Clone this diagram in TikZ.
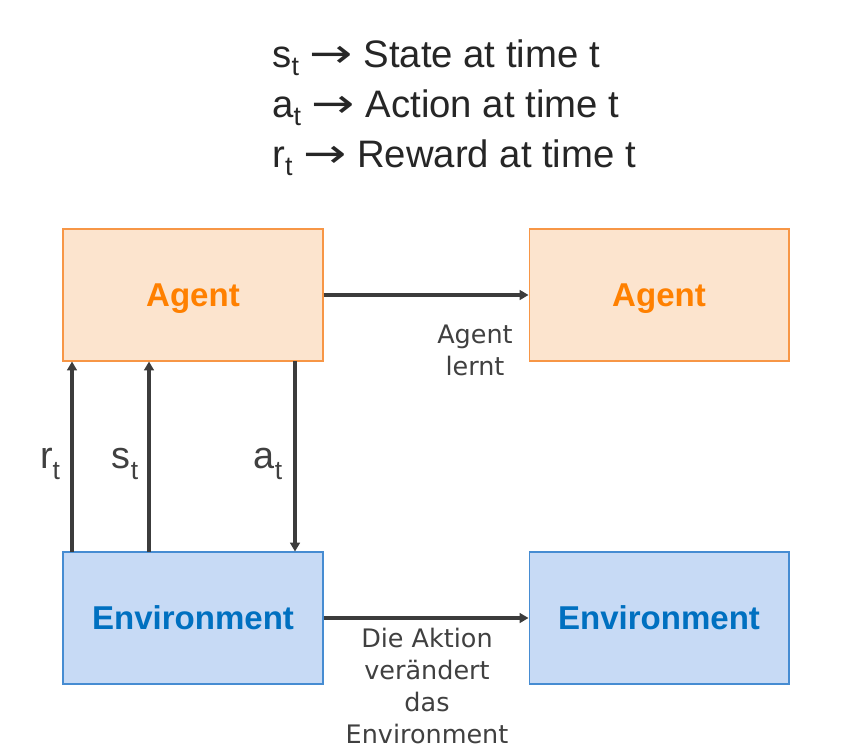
\documentclass[tikz,border=0pt]{standalone}
\usepackage{fontspec}
\setmainfont{Liberation Sans}
\newfontfamily\labelfont{DejaVu Sans}
\usetikzlibrary{arrows.meta}

\definecolor{agentfill}{RGB}{252,228,206}
\definecolor{agentline}{RGB}{247,150,70}
\definecolor{agenttext}{RGB}{255,128,0}
\definecolor{envfill}{RGB}{199,218,245}
\definecolor{envline}{RGB}{70,140,210}
\definecolor{envtext}{RGB}{0,112,192}
\definecolor{flowgray}{RGB}{60,60,60}
\definecolor{notegray}{RGB}{64,64,64}

\newcommand{\subt}[1][0.4ex]{\raisebox{-#1}{\scalebox{0.7}{t}}}
\newcommand{\legarrow}{{\labelfont\scalebox{1.35}[1.05]{→}}}

\begin{document}
\begin{tikzpicture}[x=0.02cm, y=-0.02cm,
		agentbox/.style={draw=agentline, fill=agentfill, line width=0.6pt, minimum width=5.2cm,
			minimum height=2.64cm, inner sep=0pt, text depth=0pt, text=agenttext, font=\fontsize{18.8}{22}\selectfont\bfseries},
		envbox/.style={draw=envline, fill=envfill, line width=0.6pt, minimum width=5.2cm,
			minimum height=2.64cm, inner sep=0pt, text depth=0pt, text=envtext, font=\fontsize{18.8}{22}\selectfont\bfseries},
		flow/.style={draw=flowgray, line width=1.9pt, -{Triangle[length=5pt,width=5.5pt]}},
		note/.style={text=notegray, font=\labelfont\fontsize{14.5}{18.2}\selectfont, align=center, inner sep=0pt},
		legend/.style={anchor=base west, inner sep=0pt, text=black!85, font=\fontsize{21.8}{25}\selectfont},
		sym/.style={anchor=base, inner sep=0pt, text=notegray, font=\fontsize{21.5}{25}\selectfont}]
		\useasboundingbox (0,0) rectangle (858,754);

		\node[legend] (lstate) at (272,67) {s\subt\ \legarrow\ State at time t};
		\node[legend] (laction) at (272,117) {a\subt\ \legarrow\ Action at time t};
		\node[legend] (lreward) at (272,167) {r\subt\ \legarrow\ Reward at time t};

		\node[agentbox] (agentA) at (193,295) {Agent};
		\node[agentbox] (agentB) at (659,295) {Agent};
		\node[envbox] (envA) at (193,618) {Environment};
		\node[envbox] (envB) at (659,618) {Environment};

		\draw[flow] (agentA.east) -- (agentB.west);
		\draw[flow] (envA.east) -- (envB.west);

		\coordinate (rfoot) at (72,552);
		\coordinate (sfoot) at (149,552);
		\coordinate (atop) at (295,361);
		\draw[flow] (rfoot) -- (rfoot |- agentA.south);
		\draw[flow] (sfoot) -- (sfoot |- agentA.south);
		\draw[flow] (atop) -- (atop |- envA.north);

		\node[sym] (rlabel) at (50,468) {r\subt[0.6ex]};
		\node[sym] (slabel) at (125,468) {s\subt[0.6ex]};
		\node[sym] (alabel) at (268,468) {a\subt[0.6ex]};

		\node[note] (learn) at (475,350) {Agent\\lernt};
		\node[note] (change) at (427,686) {Die Aktion\\verändert\\das\\Environment};
	\end{tikzpicture}
\end{document}
